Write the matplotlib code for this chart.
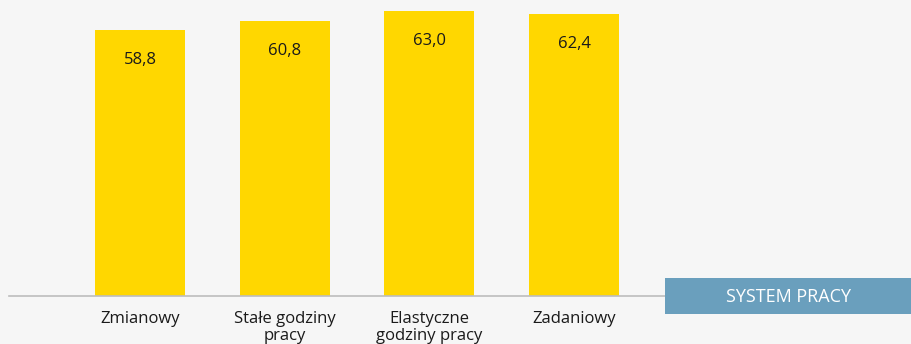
import matplotlib
matplotlib.use("Agg")
import matplotlib.pyplot as plt
from matplotlib.patches import Rectangle

categories = ["Zmianowy", "Stałe godziny\npracy", "Elastyczne\ngodziny pracy", "Zadaniowy"]
values = [58.8, 60.8, 63.0, 62.4]
axis_title = "SYSTEM PRACY"

BG = "#f6f6f6"
BAR = "#ffd700"
BOX = "#6a9fbd"

plt.rcParams["font.family"] = ["Open Sans", "DejaVu Sans"]

W, H = 912, 344
fig = plt.figure(figsize=(W / 100, H / 100), dpi=100, facecolor=BG)
# axes spans x 9..912 px, y 0..296 px (from top)
ax = fig.add_axes([9 / W, (H - 296) / H, (W - 9) / W, 296 / H])
ax.set_facecolor(BG)

x = list(range(len(values)))
bars = ax.bar(x, values, width=0.622, color=BAR, zorder=2)
for b, v in zip(bars, values):
    ax.annotate(f"{v:.1f}".replace(".", ","),
                (b.get_x() + b.get_width() / 2, v),
                xytext=(0, -30), textcoords="offset pixels",
                ha="center", va="center", fontsize=12, color="#1a1a1a")

ax.set_xlim(-0.906, 5.336)
ax.set_ylim(0, 65.4)
ax.set_xticks(x)
ax.set_xticklabels(categories, fontsize=12, color="#1a1a1a", linespacing=1.05)
ax.tick_params(axis="x", length=0, pad=11)
ax.set_yticks([])
for side in ("top", "right", "left"):
    ax.spines[side].set_visible(False)
ax.spines["bottom"].set_color("#bdbdbd")
ax.spines["bottom"].set_linewidth(1.2)

# axis title box on the right
fig.patches.append(Rectangle((665 / W, (H - 314) / H), (W - 665) / W, 36 / H,
                             transform=fig.transFigure, facecolor=BOX,
                             edgecolor="none", zorder=3))
fig.text((665 + W) / 2 / W, (H - 297) / H, axis_title, ha="center", va="center",
         fontsize=13, color="white", zorder=4)

fig.savefig("out.png", dpi=100, facecolor=BG)
